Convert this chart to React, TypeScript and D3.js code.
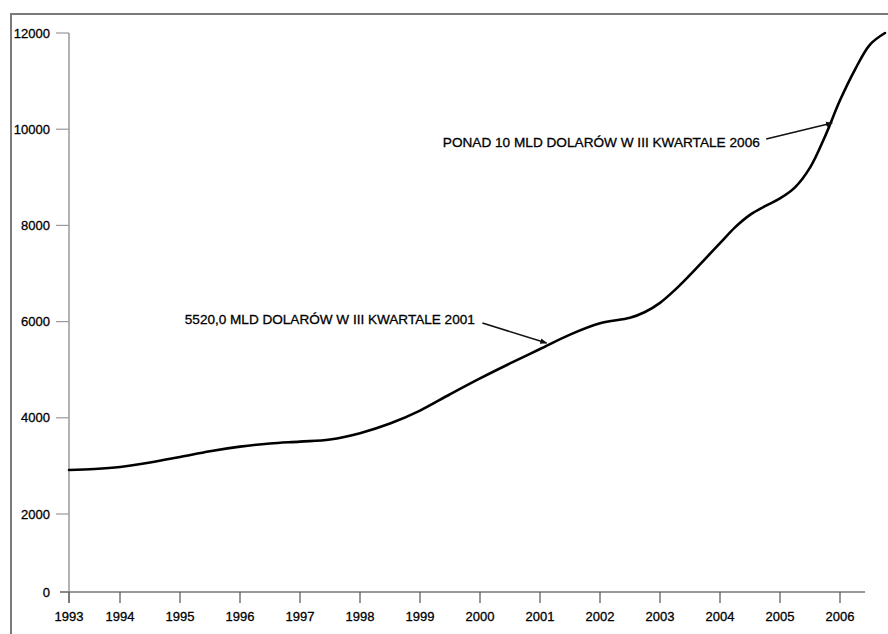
import React from "react";
import * as d3 from "d3";

const time = [1993.0, 1993.5, 1994.0, 1994.5, 1995.0, 1995.5, 1996.0, 1996.5, 1997.0, 1997.5, 1998.0, 1998.5, 1999.0, 1999.5, 2000.0, 2000.5, 2001.0, 2001.5, 2002.0, 2002.5, 2002.75, 2003.0, 2003.25, 2003.5, 2003.75, 2004.0, 2004.25, 2004.5, 2004.75, 2005.0, 2005.25, 2005.5, 2005.75, 2006.0, 2006.25, 2006.5, 2006.75];
const values = [2915, 2935, 2977, 3070, 3185, 3305, 3400, 3466, 3505, 3550, 3680, 3880, 4150, 4490, 4820, 5130, 5430, 5730, 5965, 6080, 6200, 6390, 6660, 6970, 7300, 7630, 7960, 8220, 8400, 8560, 8790, 9200, 9850, 10600, 11240, 11760, 12000];
const yearTicks = [1993, 1994, 1995, 1996, 1997, 1998, 1999, 2000, 2001, 2002, 2003, 2004, 2005, 2006];
const valueTicks = [0, 2000, 4000, 6000, 8000, 10000, 12000];

const notes = [
  { text: "PONAD 10 MLD DOLARÓW W III KWARTALE 2006", tx: 1999.38, ty: 9630, len: 317, fromT: 2004.77, fromV: 9796, toT: 2005.87, toV: 10129 },
  { text: "5520,0 MLD DOLARÓW W III KWARTALE 2001", tx: 1995.08, ty: 5950, len: 290, fromT: 2000.04, fromV: 5971, toT: 2001.11, toV: 5555 },
];

export default function App() {
  const W = 888, H = 634;
  const x = d3.scaleLinear().domain([1993, 1994, 2006]).range([69, 120, 840]);
  const y = d3.scaleLinear().domain([0, 2000, 12000]).range([592, 514, 33]);
  const pts = time.map((t, i) => [t, values[i]] as [number, number]);
  const line = d3.line<[number, number]>().x(d => x(d[0])).y(d => y(d[1])).curve(d3.curveCatmullRom.alpha(0.5));
  const font = "'Liberation Sans', Arial, sans-serif";
  const x0 = x(1993);
  const yBase = y(0);
  return (
    <svg width={W} height={H} style={{ position: "absolute", left: 0, top: 0, background: "#fff" }} fontFamily={font}>
      <defs>
        <marker id="ah" viewBox="0 0 10 10" refX="9" refY="5" markerWidth="7" markerHeight="7" markerUnits="userSpaceOnUse" orient="auto">
          <path d="M0,1 L10,5 L0,9 Z" fill="#111" />
        </marker>
      </defs>
      {/* frame */}
      <path d={`M11,${H} L11,14 L${W},14`} fill="none" stroke="#7a7a7a" strokeWidth={2} />
      {/* y axis */}
      <line x1={x0} x2={x0} y1={y(12000)} y2={yBase + 11} stroke="#999" strokeWidth={1.5} />
      {valueTicks.map(v => (
        <g key={v}>
          <line x1={v === 0 ? 60 : 56} x2={x0} y1={y(v)} y2={y(v)} stroke="#999" strokeWidth={1.2} />
          <text x={50} y={y(v)} dy="0.36em" textAnchor="end" fontSize={13} fill="#000" stroke="#000" strokeWidth={0.3}>{v}</text>
        </g>
      ))}
      {/* x axis */}
      <line x1={60} x2={865} y1={yBase} y2={yBase} stroke="#777" strokeWidth={1.3} />
      {yearTicks.map(t => (
        <g key={t}>
          <line x1={x(t)} x2={x(t)} y1={yBase} y2={yBase + 11} stroke="#555" strokeWidth={1.2} />
          <text x={x(t)} y={621} textAnchor="middle" fontSize={13} fill="#000" stroke="#000" strokeWidth={0.3}>{t}</text>
        </g>
      ))}
      {/* series */}
      <path d={line(pts) || ""} fill="none" stroke="#000" strokeWidth={2.6} strokeLinejoin="round" strokeLinecap="round" />
      {/* annotations */}
      {notes.map((n, i) => (
        <g key={i}>
          <text x={x(n.tx)} y={y(n.ty)} fontSize={13.5} fill="#000" stroke="#000" strokeWidth={0.3} textLength={n.len} lengthAdjust="spacingAndGlyphs">{n.text}</text>
          <line x1={x(n.fromT)} y1={y(n.fromV)} x2={x(n.toT)} y2={y(n.toV)} stroke="#111" strokeWidth={1.6} markerEnd="url(#ah)" />
        </g>
      ))}
    </svg>
  );
}
